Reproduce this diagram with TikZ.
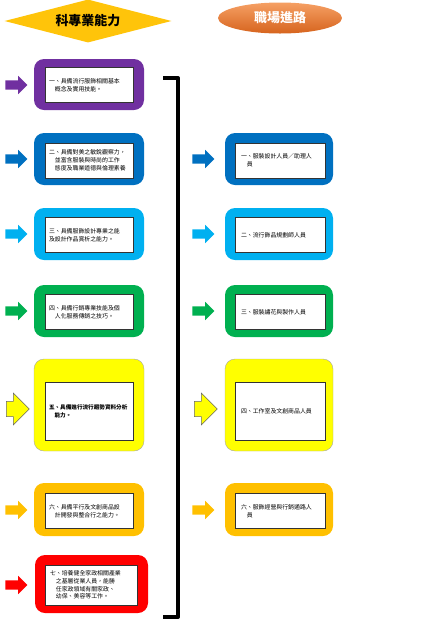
\documentclass[tikz,border=0pt]{standalone}
\usepackage{fontspec}
\setmainfont{Noto Sans CJK TC}
\usepackage{tikz}
\usetikzlibrary{positioning,shapes.geometric,shapes.arrows}
\definecolor{skillpurple}{RGB}{112,48,160}
\definecolor{skillblue}{RGB}{0,112,192}
\definecolor{skillsky}{RGB}{0,176,240}
\definecolor{skillgreen}{RGB}{0,176,80}
\definecolor{skillyellow}{RGB}{255,255,0}
\definecolor{skillorange}{RGB}{255,192,0}
\definecolor{skillred}{RGB}{255,0,0}
\definecolor{headgold}{RGB}{255,196,10}
\definecolor{headlight}{RGB}{245,160,100}
\definecolor{headdark}{RGB}{215,100,30}
\tikzset{
  outer box/.style={
    rectangle,
    rounded corners=10pt,
    minimum width=110pt,
    minimum height=52pt,
    inner sep=0pt
  },
  inner box/.style={
    rectangle,
    draw=black!80,
    line width=0.6pt,
    fill=white,
    text width=80pt,
    minimum width=88pt,
    minimum height=35pt,
    inner sep=4pt,
    align=left,
    font=\fontsize{5.9}{7.8}\selectfont
  },
  job box/.style={
    inner box,
    text width=78pt,
    minimum width=90pt,
    inner sep=6pt
  },
  side arrow/.style={
    single arrow,
    minimum height=22pt,
    minimum width=18pt,
    inner sep=4.5pt,
    single arrow head extend=4.5pt
  },
  big arrow/.style={
    side arrow,
    draw=black!60,
    line width=0.5pt,
    minimum height=23pt,
    minimum width=32pt,
    inner sep=7pt,
    single arrow head extend=8pt
  }
}

\begin{document}
\begin{tikzpicture}[x=1pt,y=-1pt]
  \useasboundingbox (0,0) rectangle (446,630);

  % Header
  \node[diamond, aspect=3.9, fill=headgold, minimum width=167pt, minimum height=43pt, inner sep=0pt,
        font=\fontsize{13}{13}\selectfont\bfseries] (skillhead) at (88,21) {科專業能力};
  \node[ellipse, top color=headlight, bottom color=headdark, minimum width=124pt, minimum height=31pt,
        text=white, font=\fontsize{13}{13}\selectfont\bfseries] (jobhead) at (280,18) {職場進路};

  % Left column: skills
  \node[outer box, fill=skillpurple, minimum height=51pt] (s1) at (89,84.5) {};
  \node[inner box] (s1t) at (89,85) {一、具備流行服飾相關基本\\\hspace{1em}概念及實用技能。};

  \node[outer box, fill=skillblue] (s2) at (89,159) {};
  \node[inner box] (s2t) at (89,160.5) {二、具備對美之敏銳觀察力，\\\hspace{1em}並富含服裝與時尚的工作\\\hspace{1em}態度及職業道德與倫理素養};

  \node[outer box, fill=skillsky] (s3) at (89,234) {};
  \node[inner box] (s3t) at (89,235) {三、具備服飾設計專業之能\\及設計作品賞析之能力。};

  \node[outer box, fill=skillgreen] (s4) at (89,311) {};
  \node[inner box] (s4t) at (89,312) {四、具備行銷專業技能及個\\\hspace{1em}人化服務傳銷之技巧。};

  \node[outer box, fill=skillyellow, draw=black!35, minimum height=92pt] (s5) at (89,405) {};
  \node[inner box, minimum height=58pt, font=\fontsize{5.6}{7.8}\selectfont\bfseries] (s5t) at (89,411) {五、具備進行流行趨勢資料分析\\\hspace{1em}能力。};

  \node[outer box, fill=skillorange, minimum height=53pt] (s6) at (89,509.5) {};
  \node[inner box] (s6t) at (89,511) {六、具備平行及文創商品設\\\hspace{1em}計開發與整合行之能力。};

  \node[outer box, fill=skillred, minimum width=113pt, minimum height=58pt] (s7) at (91.5,584) {};
  \node[inner box, text width=82pt, minimum width=92pt, minimum height=40pt] (s7t) at (91,585) {七、培養健全家政相關產業\\\hspace{1em}之基層從業人員，能勝\\\hspace{1em}任家政領域有關家政、\\\hspace{1em}幼保、美容等工作。};

  % Left arrows
  \node[side arrow, fill=skillpurple] (a1) at (14,85) {};
  \node[side arrow, fill=skillblue] (a2) at (14,159) {};
  \node[side arrow, fill=skillsky] (a3) at (14,234) {};
  \node[side arrow, fill=skillgreen] (a4) at (14,311) {};
  \node[big arrow, fill=skillyellow] (a5) at (14,409) {};
  \node[side arrow, fill=skillorange] (a6) at (14,510) {};
  \node[side arrow, fill=skillred] (a7) at (14,585) {};

  % Bracket
  \coordinate (bt) at (163,78);
  \coordinate (btr) at (178,78);
  \coordinate (bbr) at (178,617);
  \coordinate (bb) at (163,617);
  \draw[line width=4pt, line join=round] (bt) -- (btr) -- (bbr) -- (bb);

  % Right arrows
  \node[side arrow, fill=skillblue] (b1) at (201,159) {};
  \node[side arrow, fill=skillsky] (b2) at (201,234) {};
  \node[side arrow, fill=skillgreen] (b3) at (201,311) {};
  \node[big arrow, fill=skillyellow] (b4) at (202,409) {};
  \node[side arrow, fill=skillorange] (b5) at (201,510) {};

  % Right column: jobs
  \node[outer box, fill=skillblue, minimum width=108pt] (j1) at (279,159) {};
  \node[job box] (j1t) at (280,160.5) {一、服裝設計人員／助理人\\\hspace{1em}員};

  \node[outer box, fill=skillsky, minimum width=108pt] (j2) at (279,234) {};
  \node[job box] (j2t) at (280,235) {二、流行飾品規劃師人員};

  \node[outer box, fill=skillgreen, minimum width=108pt] (j3) at (279,311) {};
  \node[job box] (j3t) at (280,312) {三、服裝繡花與製作人員};

  \node[outer box, fill=skillyellow, draw=black!35, minimum width=108pt, minimum height=92pt] (j4) at (279,405) {};
  \node[job box, minimum height=58pt] (j4t) at (280,411) {四、工作室及文創商品人員};

  \node[outer box, fill=skillorange, minimum width=108pt, minimum height=53pt] (j5) at (279,509.5) {};
  \node[job box] (j5t) at (280,511) {六、服飾經營與行銷通路人\\\hspace{1em}員};

\end{tikzpicture}
\end{document}
